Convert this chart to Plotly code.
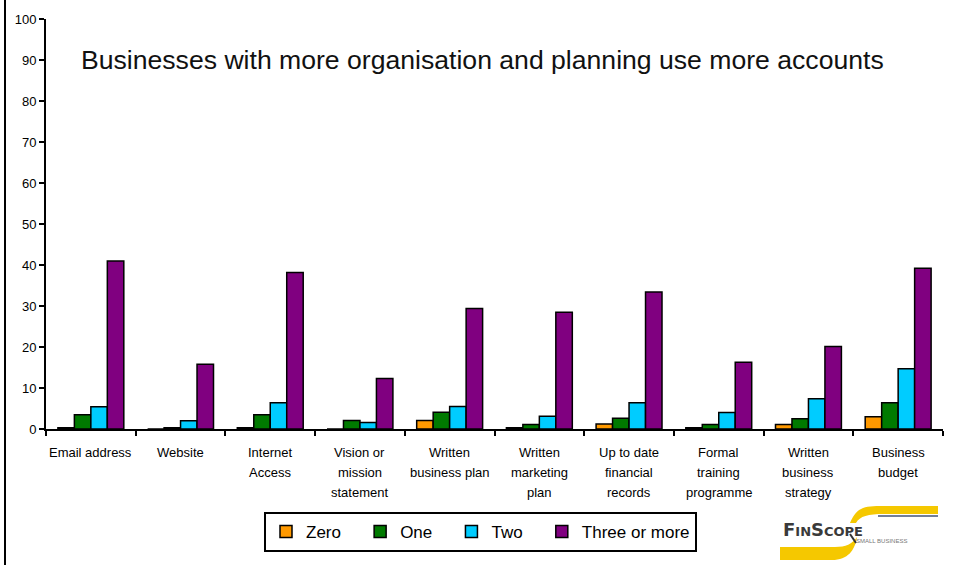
import plotly.graph_objects as go

# Survey results: share of businesses (%) by number of accounts held
categories = [
    "Email address", "Website", "Internet Access", "Vision or mission statement",
    "Written business plan", "Written marketing plan", "Up to date financial records",
    "Formal training programme", "Written business strategy", "Business budget",
]
label_lines = [
    ["Email address"],
    ["Website"],
    ["Internet", "Access"],
    ["Vision or", "mission", "statement"],
    ["Written", "business plan"],
    ["Written", "marketing", "plan"],
    ["Up to date", "financial", "records"],
    ["Formal", "training", "programme"],
    ["Written", "business", "strategy"],
    ["Business", "budget"],
]
zero = [0.3, 0.0, 0.3, 0.0, 2.1, 0.3, 1.2, 0.3, 1.1, 3.0]
one = [3.5, 0.3, 3.5, 2.1, 4.1, 1.1, 2.6, 1.1, 2.5, 6.4]
two = [5.4, 2.0, 6.4, 1.6, 5.5, 3.1, 6.4, 4.0, 7.4, 14.7]
three_plus = [41.0, 15.8, 38.2, 12.3, 29.4, 28.5, 33.4, 16.3, 20.1, 39.2]

series_names = ["Zero", "One", "Two", "Three or more"]
series_colors = ["#FF9900", "#007A00", "#00CCFF", "#800080"]
series_values = [zero, one, two, three_plus]

W, H = 954, 568
ML, MR, MT, MB = 46, 11, 19, 139
PW, PH = W - ML - MR, H - MT - MB


def px(x):
    return (x - ML) / PW


def py(y):
    return (H - MB - y) / PH


PAD = "\u00a0" * 3  # extra room between legend entries

fig = go.Figure()
for i, (name, vals, color) in enumerate(zip(series_names, series_values, series_colors)):
    label = name if i == len(series_names) - 1 else name + PAD
    fig.add_trace(go.Bar(
        name=label, x=categories, y=vals,
        marker=dict(color=color, line=dict(color="black", width=1.5)),
    ))

annotations = [dict(
    text="Businesses with more organisation and planning use more accounts",
    xref="paper", yref="paper", x=px(482), y=py(60),
    xanchor="center", yanchor="middle", showarrow=False,
    font=dict(size=26.6, color="#111111"),
)]
for cat, lines in zip(categories, label_lines):
    for i, line in enumerate(lines):
        annotations.append(dict(
            text=line, xref="x", yref="paper", x=cat, y=0,
            xanchor="center", yanchor="middle", yshift=-(23 + 20 * i),
            showarrow=False, font=dict(size=13, color="black"),
        ))

# FinScope logo, drawn with simple shapes
annotations.append(dict(
    text=("<b>F<span style='font-size:13px'>IN</span>S"
          "<span style='font-size:13px'>COPE</span></b>"),
    xref="paper", yref="paper", x=px(781), y=py(529), xanchor="left", yanchor="middle",
    showarrow=False, font=dict(size=18, color="#3a3a3a", family="DejaVu Sans"),
))
annotations.append(dict(
    text="SMALL BUSINESS", xref="paper", yref="paper", x=px(854), y=py(541),
    xanchor="left", yanchor="middle", showarrow=False,
    font=dict(size=6, color="#777777"),
))

shapes = [
    # frame line on the left edge
    dict(type="line", xref="paper", yref="paper", x0=px(5), x1=px(5),
         y0=py(0), y1=py(565), line=dict(color="black", width=2)),
    # logo swooshes
    dict(type="path", xref="paper", yref="paper",
         path=(f"M {px(850)},{py(523)} C {px(856)},{py(509)} {px(862)},{py(506)} {px(880)},{py(506)} "
               f"L {px(938)},{py(506)} L {px(938)},{py(514)} L {px(884)},{py(514)} "
               f"C {px(868)},{py(514)} {px(860)},{py(516)} {px(856)},{py(523)} Z"),
         fillcolor="#F5C800", line=dict(width=0)),
    dict(type="line", xref="paper", yref="paper", x0=px(878), x1=px(938),
         y0=py(516), y1=py(516), line=dict(color="#445577", width=1.5)),
    dict(type="path", xref="paper", yref="paper",
         path=(f"M {px(780)},{py(547)} L {px(835)},{py(547)} "
               f"C {px(846)},{py(547)} {px(852)},{py(544)} {px(857)},{py(537)} "
               f"C {px(855)},{py(550)} {px(848)},{py(560)} {px(832)},{py(560)} "
               f"L {px(780)},{py(560)} Z"),
         fillcolor="#F5C800", line=dict(width=0)),
    # magnifier handle under the O
    dict(type="line", xref="paper", yref="paper", x0=px(850), x1=px(856),
         y0=py(534), y1=py(543), line=dict(color="#333333", width=2)),
]

fig.update_layout(
    width=W, height=H,
    margin=dict(l=ML, r=MR, t=MT, b=MB),
    paper_bgcolor="white", plot_bgcolor="white",
    font=dict(family="Liberation Sans, Arial, sans-serif", color="black"),
    barmode="group", bargap=0.265, bargroupgap=0,
    showlegend=True,
    legend=dict(
        orientation="h", x=px(264), y=py(512), xanchor="left", yanchor="top",
        bordercolor="black", borderwidth=2, bgcolor="white",
        font=dict(size=17, color="black"),
        traceorder="normal",
    ),
    xaxis=dict(
        type="category", showticklabels=False, showgrid=False,
        showline=True, linecolor="black", linewidth=2,
        ticks="outside", ticklen=5, tickwidth=1.5, tickcolor="black",
        tickson="boundaries", zeroline=False,
    ),
    yaxis=dict(
        range=[0, 100], dtick=10, showgrid=False, zeroline=False,
        showline=True, linecolor="black", linewidth=2,
        ticks="outside", ticklen=5, tickwidth=1.5, tickcolor="black",
        tickfont=dict(size=13, color="black"),
    ),
    annotations=annotations,
    shapes=shapes,
)

fig.write_html("out.html")
